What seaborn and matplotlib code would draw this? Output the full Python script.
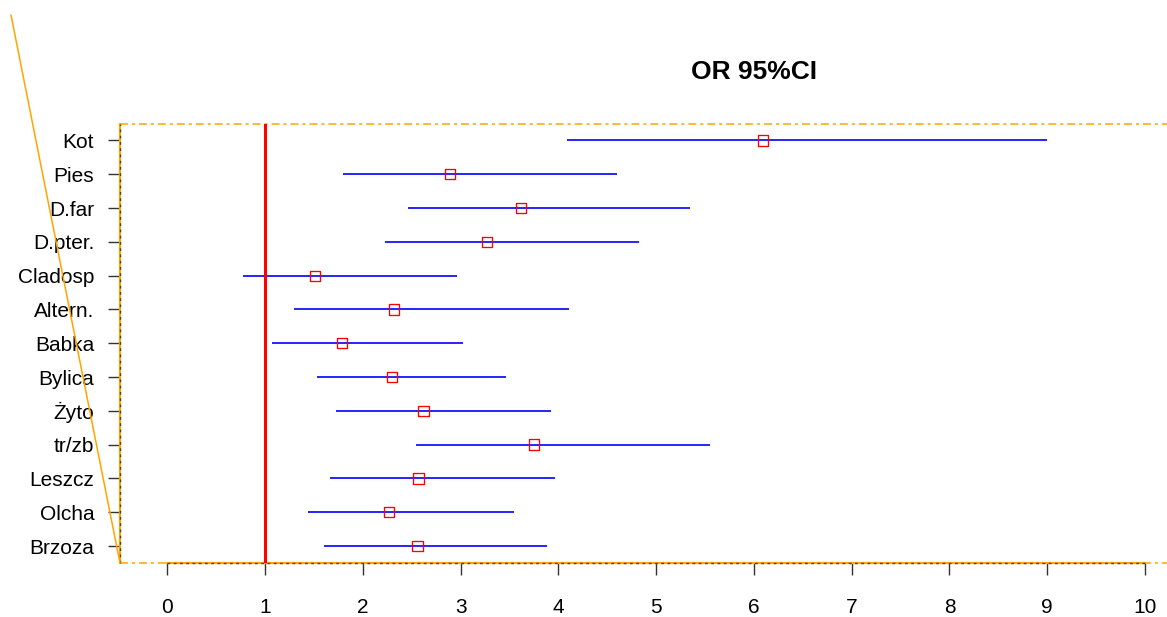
import numpy as np
import pandas as pd
import matplotlib
matplotlib.use("Agg")
import matplotlib.pyplot as plt
from matplotlib.lines import Line2D
import seaborn as sns

# Odds ratios with 95% confidence intervals per allergen
allergens = ["Kot", "Pies", "D.far", "D.pter.", "Cladosp", "Altern.", "Babka",
             "Bylica", "Żyto", "tr/zb", "Leszcz", "Olcha", "Brzoza"]
odds_ratio = [6.09, 2.89, 3.62, 3.27, 1.51, 2.32, 1.79, 2.30, 2.62, 3.75, 2.57, 2.27, 2.56]
ci_low = [4.09, 1.80, 2.46, 2.23, 0.77, 1.30, 1.07, 1.53, 1.73, 2.54, 1.66, 1.44, 1.60]
ci_high = [9.00, 4.60, 5.35, 4.82, 2.96, 4.11, 3.02, 3.46, 3.92, 5.55, 3.97, 3.55, 3.88]
x_ticks = [0, 1, 2, 3, 4, 5, 6, 7, 8, 9, 10]
reference_or = 1
title = "OR 95%CI"

sns.set_style("white")
plt.rcParams["font.family"] = ["Liberation Sans", "DejaVu Sans"]
plt.rcParams["text.color"] = "black"

n = len(allergens)
df = pd.DataFrame({
    "allergen": allergens,
    "or": odds_ratio,
    "low": ci_low,
    "high": ci_high,
})
df["row"] = n - np.arange(n)  # first allergen at the top

W, H = 1167, 617
fig = plt.figure(figsize=(W / 100, H / 100), dpi=100)
ax = fig.add_axes([120 / W, 54.3 / H, (W - 120) / W, 438.4 / H])

ORANGE = "#FFA500"

# confidence intervals
ax.hlines(df["row"], df["low"], df["high"], color="#0000FF", lw=1.2, zorder=3)

# reference line at OR = 1
ax.axvline(reference_or, color="#FF0000", lw=2.2, zorder=4)

# point estimates
sns.scatterplot(data=df, x="or", y="row", ax=ax, marker="s", s=55,
                facecolor="none", edgecolor="#FF0000", linewidth=0.95,
                zorder=5, legend=False)

ax.set_xlim(-0.484, 10.225)
ax.set_ylim(0.506, 13.479)

for sp in ax.spines.values():
    sp.set_visible(False)

dashdot = (0, (5.2, 2.6, 2.0, 2.6))
# top border and bottom border (dash-dot, orange)
ax.plot([0, 1], [1, 1], transform=ax.transAxes, color=ORANGE, lw=1.1,
        linestyle=dashdot, clip_on=False, zorder=2)
ax.plot([0, 1], [0, 0], transform=ax.transAxes, color=ORANGE, lw=1.1,
        linestyle=dashdot, clip_on=False, zorder=2)
# left border: solid orange with dark dashed overlay
ax.plot([0, 0], [0, 1], transform=ax.transAxes, color=ORANGE, lw=1.6,
        clip_on=False, zorder=2)
ax.plot([0, 0], [0, 1], transform=ax.transAxes, color="#444444", lw=1.0,
        linestyle=(0, (2, 2.5)), clip_on=False, zorder=2)
# x axis line over the tick range
trans_x = ax.get_xaxis_transform()
ax.plot([x_ticks[0], x_ticks[-1]], [0, 0], transform=trans_x, color=ORANGE,
        lw=1.6, clip_on=False, zorder=2)
ax.plot([x_ticks[0], x_ticks[-1]], [0, 0], transform=trans_x, color="#444444",
        lw=1.0, linestyle=(0, (2, 2.5)), clip_on=False, zorder=2)

ax.set_xticks(x_ticks)
ax.set_xticklabels([str(t) for t in x_ticks])
ax.set_yticks(df["row"])
ax.set_yticklabels(df["allergen"])
ax.tick_params(axis="both", direction="out", length=8.6, width=1.0,
               color="#333333", labelsize=15, labelcolor="black")
ax.tick_params(axis="x", pad=17, bottom=True)
ax.tick_params(axis="y", pad=10, left=True)
ax.set_xlabel("")
ax.set_ylabel("")
ax.grid(False)

fig.text(754 / W, 1 - 72 / H, title, ha="center", va="center",
         fontsize=19, fontweight="bold", color="black")

# diagonal guide line in the left margin
fig.add_artist(Line2D([11 / W, 120 / W], [1 - 15 / H, 1 - 563 / H],
                      transform=fig.transFigure, color=ORANGE, lw=1.1))

fig.savefig("out.png", dpi=100)
